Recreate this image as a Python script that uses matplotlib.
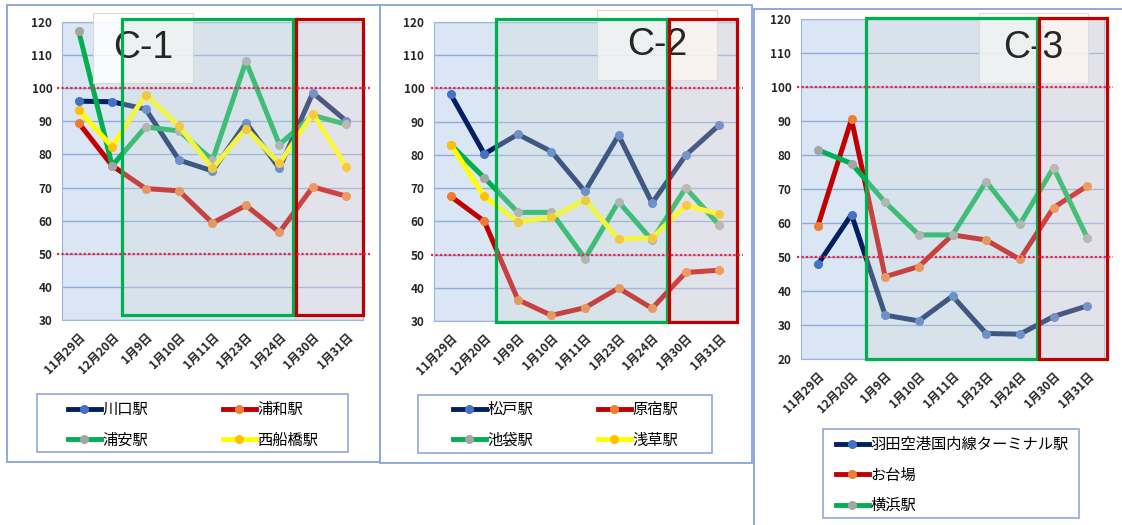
import matplotlib
matplotlib.use("Agg")
import matplotlib.pyplot as plt
from matplotlib.patches import Rectangle
from matplotlib.lines import Line2D
from matplotlib.colors import to_rgba
import matplotlib.transforms as mtransforms

plt.rcParams["font.family"] = ["Noto Sans CJK JP", "DejaVu Sans"]

# ---- data (index values) ----
dates = ["11月29日", "12月20日", "1月9日", "1月10日", "1月11日",
         "1月23日", "1月24日", "1月30日", "1月31日"]

c1_names = ["川口駅", "浦和駅", "浦安駅", "西船橋駅"]
c1_kawaguchi = [96.1, 95.9, 93.7, 78.3, 75.0, 89.6, 75.8, 98.6, 90.1]
c1_urawa = [89.5, 76.6, 69.7, 69.0, 59.3, 64.6, 56.5, 70.2, 67.4]
c1_urayasu = [117.2, 76.6, 88.3, 87.1, 78.3, 108.1, 83.0, 91.8, 89.1]
c1_nishifunabashi = [93.4, 82.3, 98.1, 88.6, 75.8, 87.8, 77.3, 92.3, 76.3]

c2_names = ["松戸駅", "原宿駅", "池袋駅", "浅草駅"]
c2_matsudo = [98.2, 80.3, 86.2, 81.0, 69.0, 85.9, 65.5, 79.9, 89.0]
c2_harajuku = [67.5, 60.0, 36.4, 31.7, 34.0, 39.9, 33.8, 44.6, 45.3]
c2_ikebukuro = [83.1, 73.1, 62.7, 62.7, 48.8, 65.9, 54.3, 70.1, 58.8]
c2_asakusa = [83.1, 67.5, 59.9, 61.2, 66.5, 54.6, 55.0, 64.8, 62.2]

c3_names = ["羽田空港国内線ターミナル駅", "お台場", "横浜駅"]
c3_haneda = [47.8, 62.5, 32.9, 31.2, 38.5, 27.5, 27.3, 32.5, 35.6]
c3_odaiba = [59.1, 90.5, 44.2, 47.2, 56.5, 55.0, 49.3, 64.5, 70.9]
c3_yokohama = [81.5, 77.5, 66.1, 56.5, 56.5, 72.2, 59.6, 76.3, 55.7]

# line colour, marker colour
BLUE = ("#002060", "#4472c4")
RED = ("#c00000", "#ed7d31")
GREEN = ("#00b050", "#a5a5a5")
YELLOW = ("#ffff00", "#ffc000")

W, H = 1122, 525
FRAME = "#8eaadb"
fig = plt.figure(figsize=(W / 100, H / 100), dpi=100)
fig.patch.set_facecolor("white")


def frac(x0, y0, x1, y1):
    return [x0 / W, 1 - y1 / H, (x1 - x0) / W, (y1 - y0) / H]


def fig_rect(x0, y0, x1, y1, **kw):
    r = Rectangle((x0 / W, 1 - y1 / H), (x1 - x0) / W, (y1 - y0) / H,
                  transform=fig.transFigure, fill=False, **kw)
    fig.add_artist(r)


def panel(box, ylim, series, tag, tag_box, green, red, yspan, dot_x):
    ax = fig.add_axes(frac(*box))
    ax.set_facecolor("#dae6f4")
    ax.set_xlim(-0.5, len(dates) - 0.5)
    ax.set_ylim(*ylim)
    ax.set_yticks(range(ylim[0], ylim[1] + 1, 10))
    ax.yaxis.grid(True, color="#8faadc", lw=1)
    ax.set_axisbelow(True)
    for sp in ax.spines.values():
        sp.set_color("#9db5e3")
    ax.tick_params(axis="both", length=0)
    ax.tick_params(axis="y", pad=7, labelsize=8.5, labelcolor="#262626")
    for t in ax.get_yticklabels():
        t.set_fontweight("bold")
    ax.set_xticks(range(len(dates)))
    ax.set_xticklabels(dates, rotation=45, ha="right", rotation_mode="anchor",
                       fontsize=8.5, fontweight="bold", color="#262626")
    off = mtransforms.ScaledTranslation(6 / 100, 0, fig.dpi_scale_trans)
    for t in ax.get_xticklabels():
        t.set_transform(t.get_transform() + off)
    ax.tick_params(axis="x", pad=8)

    for vals, (lc, mc) in series:
        ax.plot(range(len(dates)), vals, color=lc, lw=3.6, marker="o", ms=5.5,
                mfc=mc, mec=mc, zorder=3, solid_joinstyle="round",
                solid_capstyle="round", clip_on=False)

    # label box (white, slightly translucent)
    x0, y0, x1, y1 = tag_box
    ax.add_patch(Rectangle((x0 / W, 1 - y1 / H), (x1 - x0) / W, (y1 - y0) / H,
                           transform=fig.transFigure, facecolor=to_rgba("white", 0.85),
                           edgecolor="#d9d9d9", lw=0.8, zorder=4, clip_on=False))
    ax.text((x0 + x1) / 2 / W, 1 - (y0 + y1) / 2 / H, tag, transform=fig.transFigure,
            ha="center", va="center", fontsize=27, family="Liberation Sans",
            color="#262626", zorder=5)

    # highlight boxes: translucent fill under the text, solid edge above it
    yb, yt = yspan
    for (a, b), fc, ec in ((green, "#d3dcd6", "#00b050"), (red, "#f5dfd3", "#c00000")):
        ax.add_patch(Rectangle((a, yb), b - a, yt - yb, facecolor=to_rgba(fc, 0.3),
                               edgecolor="none", zorder=4.5, clip_on=False))
        ax.add_patch(Rectangle((a, yb), b - a, yt - yb, fill=False,
                               edgecolor=ec, lw=2.3, zorder=5.5, clip_on=False))

    for ref in (100, 50):
        ax.plot(dot_x, [ref, ref], color="#ee2244", lw=1.6, ls=(0, (1, 1)),
                zorder=6, clip_on=False)
    return ax


def legend(names, series, order, anchor, ncol, colsp):
    handles = [Line2D([], [], color=lc, lw=3.5, marker="o", ms=5.5, mfc=mc, mec=mc)
               for lc, mc in series]
    fig.legend([handles[i] for i in order], [names[i] for i in order],
               loc="upper left", ncol=ncol,
               bbox_to_anchor=(anchor[0] / W, 1 - anchor[1] / H),
               frameon=False, borderaxespad=0, borderpad=0,
               handlelength=2.15, handletextpad=0.1, labelspacing=0.88,
               columnspacing=colsp, prop={"size": 11})


# panel frames
fig_rect(7, 5, 380, 462, edgecolor=FRAME, lw=1.4)
fig_rect(380, 5, 752, 463, edgecolor=FRAME, lw=1.4)
fig_rect(754, 9, 1130, 535, edgecolor=FRAME, lw=1.4)

panel((62, 22, 363, 320), (30, 120),
      [(c1_kawaguchi, BLUE), (c1_urawa, RED), (c1_urayasu, GREEN),
       (c1_nishifunabashi, YELLOW)],
      "C-1", (93, 13, 193, 83), (1.29, 6.41), (6.5, 8.5), (31.5, 120.9),
      [-0.65, 8.7])
panel((434, 22, 736, 321), (30, 120),
      [(c2_matsudo, BLUE), (c2_harajuku, RED), (c2_ikebukuro, GREEN),
       (c2_asakusa, YELLOW)],
      "C-2", (597, 10, 717, 80), (1.34, 6.43), (6.5, 8.53), (29.6, 121.0),
      [-0.6, 8.7])
panel((801, 19, 1104, 359), (20, 120),
      [(c3_haneda, BLUE), (c3_odaiba, RED), (c3_yokohama, GREEN)],
      "C-3", (979, 13, 1088, 83), (1.43, 6.51), (6.57, 8.59), (20.0, 120.3),
      [-0.62, 8.77])

# legend frames + entries (two-column legends filled row by row)
fig_rect(37, 394, 348, 452, edgecolor=FRAME, lw=1.2)
fig_rect(418, 395, 712, 453, edgecolor=FRAME, lw=1.2)
fig_rect(823, 429, 1079, 518, edgecolor=FRAME, lw=1.2)
legend(c1_names, [BLUE, RED, GREEN, YELLOW], [0, 2, 1, 3], (68, 401), 2, 4.9)
legend(c2_names, [BLUE, RED, GREEN, YELLOW], [0, 2, 1, 3], (453, 401), 2, 4.25)
legend(c3_names, [BLUE, RED, GREEN], [0, 1, 2], (836, 436), 1, 1.0)

fig.savefig("out.png", dpi=100)
